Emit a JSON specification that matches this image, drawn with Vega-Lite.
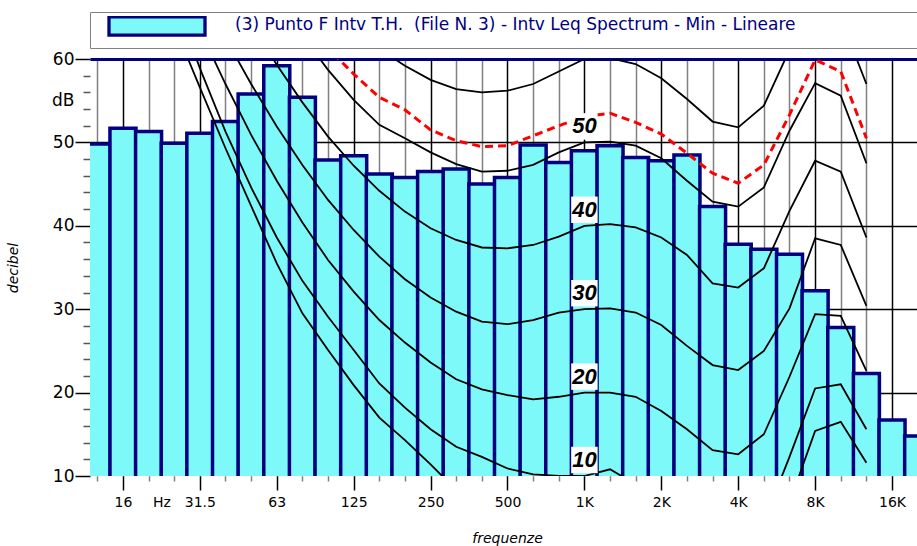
{
"$schema":"https://vega.github.io/schema/vega-lite/v6.json",
"autosize":{"type":"none"},
"width":827,"height":417,
"padding":{"left":90,"top":59,"right":0,"bottom":70},
"background":"white",
"config":{"view":{"stroke":null},"font":"DejaVu Sans"},
"datasets":{
"bars":[
{"f":12.59,"db":49.8},{"f":15.85,"db":51.7},{"f":19.95,"db":51.3},{"f":25.12,"db":49.9},{"f":31.62,"db":51.1},{"f":39.81,"db":52.5},{"f":50.12,"db":55.8},{"f":63.1,"db":59.2},{"f":79.43,"db":55.4},{"f":100,"db":47.9},{"f":125.9,"db":48.4},{"f":158.5,"db":46.2},{"f":199.5,"db":45.8},{"f":251.2,"db":46.5},{"f":316.2,"db":46.8},{"f":398.1,"db":45.0},{"f":501.2,"db":45.8},{"f":631,"db":49.7},{"f":794.3,"db":47.6},{"f":1000,"db":49.0},{"f":1259,"db":49.6},{"f":1585,"db":48.2},{"f":1995,"db":47.8},{"f":2512,"db":48.5},{"f":3162,"db":42.3},{"f":3981,"db":37.8},{"f":5012,"db":37.2},{"f":6310,"db":36.6},{"f":7943,"db":32.2},{"f":10000,"db":27.8},{"f":12590,"db":22.3},{"f":15850,"db":16.7},{"f":19950,"db":14.8}],
"curves":[
{"c":"0","f":19.95,"db":74},{"c":"0","f":25.12,"db":64.0},{"c":"0","f":31.62,"db":56.6},{"c":"0","f":39.81,"db":49.3},{"c":"0","f":50.12,"db":42.4},{"c":"0","f":63.1,"db":35.5},{"c":"0","f":79.43,"db":29.5},{"c":"0","f":100,"db":25.1},{"c":"0","f":125.9,"db":20.9},{"c":"0","f":158.5,"db":17.0},{"c":"0","f":199.5,"db":14.3},{"c":"0","f":251.2,"db":11.4},{"c":"0","f":316.2,"db":8.3},{"c":"0","f":398.1,"db":6},{"c":"0","f":501.2,"db":4.5},{"c":"0","f":631,"db":3},{"c":"0","f":794.3,"db":2},{"c":"0","f":1000,"db":2},{"c":"0","f":1259,"db":3},{"c":"0","f":1585,"db":2},{"c":"0","f":1995,"db":-1},{"c":"0","f":2512,"db":-4},{"c":"0","f":3162,"db":-6},{"c":"0","f":3981,"db":-5},{"c":"0","f":5012,"db":-1},{"c":"0","f":6310,"db":6.8},{"c":"0","f":7943,"db":15.4},{"c":"0","f":10000,"db":16.5},{"c":"0","f":12590,"db":11.6},
{"c":"10","f":19.95,"db":80},{"c":"10","f":25.12,"db":67.3},{"c":"10","f":31.62,"db":58.9},{"c":"10","f":39.81,"db":51.3},{"c":"10","f":50.12,"db":44.6},{"c":"10","f":63.1,"db":38.6},{"c":"10","f":79.43,"db":33.4},{"c":"10","f":100,"db":29.1},{"c":"10","f":125.9,"db":25.1},{"c":"10","f":158.5,"db":21.1},{"c":"10","f":199.5,"db":18.2},{"c":"10","f":251.2,"db":15.6},{"c":"10","f":316.2,"db":13.5},{"c":"10","f":398.1,"db":12.3},{"c":"10","f":501.2,"db":10.9},{"c":"10","f":631,"db":10.2},{"c":"10","f":794.3,"db":10.0},{"c":"10","f":1000,"db":10.0},{"c":"10","f":1259,"db":10.8},{"c":"10","f":1585,"db":9},{"c":"10","f":1995,"db":6},{"c":"10","f":2512,"db":3},{"c":"10","f":3162,"db":1.5},{"c":"10","f":3981,"db":1.5},{"c":"10","f":5012,"db":4.5},{"c":"10","f":6310,"db":12.3},{"c":"10","f":7943,"db":20.5},{"c":"10","f":10000,"db":21.0},{"c":"10","f":12590,"db":15.6},
{"c":"20","f":25.12,"db":70},{"c":"20","f":31.62,"db":63.5},{"c":"20","f":39.81,"db":57.0},{"c":"20","f":50.12,"db":50.9},{"c":"20","f":63.1,"db":45.4},{"c":"20","f":79.43,"db":40.4},{"c":"20","f":100,"db":35.9},{"c":"20","f":125.9,"db":32.1},{"c":"20","f":158.5,"db":28.7},{"c":"20","f":199.5,"db":26.0},{"c":"20","f":251.2,"db":23.6},{"c":"20","f":316.2,"db":21.6},{"c":"20","f":398.1,"db":20.4},{"c":"20","f":501.2,"db":19.7},{"c":"20","f":631,"db":19.2},{"c":"20","f":794.3,"db":19.5},{"c":"20","f":1000,"db":20.0},{"c":"20","f":1259,"db":20.0},{"c":"20","f":1585,"db":19.5},{"c":"20","f":1995,"db":17.8},{"c":"20","f":2512,"db":15.6},{"c":"20","f":3162,"db":13.1},{"c":"20","f":3981,"db":12.6},{"c":"20","f":5012,"db":15.0},{"c":"20","f":6310,"db":21.9},{"c":"20","f":7943,"db":29.4},{"c":"20","f":10000,"db":29.2},{"c":"20","f":12590,"db":22.6},
{"c":"30","f":31.62,"db":68},{"c":"30","f":39.81,"db":62.5},{"c":"30","f":50.12,"db":57.0},{"c":"30","f":63.1,"db":51.9},{"c":"30","f":79.43,"db":47.3},{"c":"30","f":100,"db":43.1},{"c":"30","f":125.9,"db":39.5},{"c":"30","f":158.5,"db":36.3},{"c":"30","f":199.5,"db":33.6},{"c":"30","f":251.2,"db":31.4},{"c":"30","f":316.2,"db":29.7},{"c":"30","f":398.1,"db":28.5},{"c":"30","f":501.2,"db":28.2},{"c":"30","f":631,"db":28.7},{"c":"30","f":794.3,"db":29.6},{"c":"30","f":1000,"db":30.0},{"c":"30","f":1259,"db":30.1},{"c":"30","f":1585,"db":29.6},{"c":"30","f":1995,"db":28.1},{"c":"30","f":2512,"db":25.6},{"c":"30","f":3162,"db":23.3},{"c":"30","f":3981,"db":22.7},{"c":"30","f":5012,"db":25.0},{"c":"30","f":6310,"db":30.1},{"c":"30","f":7943,"db":38.5},{"c":"30","f":10000,"db":37.7},{"c":"30","f":12590,"db":30.4},
{"c":"40","f":39.81,"db":70},{"c":"40","f":50.12,"db":64.3},{"c":"40","f":63.1,"db":59.3},{"c":"40","f":79.43,"db":54.8},{"c":"40","f":100,"db":50.7},{"c":"40","f":125.9,"db":47.2},{"c":"40","f":158.5,"db":44.2},{"c":"40","f":199.5,"db":41.7},{"c":"40","f":251.2,"db":39.7},{"c":"40","f":316.2,"db":38.3},{"c":"40","f":398.1,"db":37.4},{"c":"40","f":501.2,"db":37.3},{"c":"40","f":631,"db":37.7},{"c":"40","f":794.3,"db":38.7},{"c":"40","f":1000,"db":40.0},{"c":"40","f":1259,"db":40.2},{"c":"40","f":1585,"db":39.8},{"c":"40","f":1995,"db":38.6},{"c":"40","f":2512,"db":36.5},{"c":"40","f":3162,"db":33.1},{"c":"40","f":3981,"db":32.6},{"c":"40","f":5012,"db":34.9},{"c":"40","f":6310,"db":41.8},{"c":"40","f":7943,"db":47.8},{"c":"40","f":10000,"db":46.5},{"c":"40","f":12590,"db":38.6},
{"c":"50","f":63.1,"db":67},{"c":"50","f":79.43,"db":62.8},{"c":"50","f":100,"db":58.7},{"c":"50","f":125.9,"db":55.1},{"c":"50","f":158.5,"db":52.1},{"c":"50","f":199.5,"db":50.5},{"c":"50","f":251.2,"db":48.8},{"c":"50","f":316.2,"db":47.4},{"c":"50","f":398.1,"db":46.5},{"c":"50","f":501.2,"db":46.6},{"c":"50","f":631,"db":47.3},{"c":"50","f":794.3,"db":48.8},{"c":"50","f":1000,"db":50.0},{"c":"50","f":1259,"db":50.1},{"c":"50","f":1585,"db":49.6},{"c":"50","f":1995,"db":48.1},{"c":"50","f":2512,"db":45.4},{"c":"50","f":3162,"db":42.9},{"c":"50","f":3981,"db":42.3},{"c":"50","f":5012,"db":44.6},{"c":"50","f":6310,"db":51.4},{"c":"50","f":7943,"db":57.1},{"c":"50","f":10000,"db":55.6},{"c":"50","f":12590,"db":47.5},
{"c":"60","f":100,"db":66},{"c":"60","f":125.9,"db":63.5},{"c":"60","f":158.5,"db":61.2},{"c":"60","f":199.5,"db":59.2},{"c":"60","f":251.2,"db":57.5},{"c":"60","f":316.2,"db":56.4},{"c":"60","f":398.1,"db":56.0},{"c":"60","f":501.2,"db":56.2},{"c":"60","f":631,"db":57.0},{"c":"60","f":794.3,"db":58.5},{"c":"60","f":1000,"db":60.0},{"c":"60","f":1259,"db":60.1},{"c":"60","f":1585,"db":59.4},{"c":"60","f":1995,"db":57.7},{"c":"60","f":2512,"db":55.2},{"c":"60","f":3162,"db":52.5},{"c":"60","f":3981,"db":51.8},{"c":"60","f":5012,"db":54.4},{"c":"60","f":6310,"db":61.1},{"c":"60","f":7943,"db":67},{"c":"60","f":10000,"db":64.9},{"c":"60","f":12590,"db":57.0}],
"red":[
{"f":79.43,"db":63.5},{"f":100,"db":61.3},{"f":125.9,"db":58.2},{"f":158.5,"db":55.4},{"f":199.5,"db":53.9},{"f":251.2,"db":51.5},{"f":316.2,"db":50.2},{"f":398.1,"db":49.5},{"f":501.2,"db":49.6},{"f":631,"db":50.8},{"f":794.3,"db":52.0},{"f":1000,"db":53.1},{"f":1259,"db":53.5},{"f":1585,"db":52.4},{"f":1995,"db":51.0},{"f":2512,"db":48.7},{"f":3162,"db":46.3},{"f":3981,"db":45.1},{"f":5012,"db":47.3},{"f":6310,"db":53.3},{"f":7943,"db":59.9},{"f":10000,"db":58.5},{"f":12590,"db":50.5}],
"labels":[{"phon":10,"f":1000},{"phon":20,"f":1000},{"phon":30,"f":1000},{"phon":40,"f":1000},{"phon":50,"f":1000}]
},
"layer":[
{"data":{"name":"bars"},
 "mark":{"type":"bar","width":26,"stroke":"#000080","strokeWidth":3.5,"clip":true},
 "encoding":{
  "x":{"field":"f","type":"quantitative",
   "scale":{"type":"log","domain":[12.33,18962],"nice":false},
   "axis":{
    "values":[12.59,15.85,19.95,22.39,25.12,31.62,39.81,50.12,63.1,79.43,100,125.9,158.5,199.5,251.2,316.2,398.1,501.2,631,794.3,1000,1259,1585,1995,2512,3162,3981,5012,6310,7943,10000,12590,15850],
    "tickCount":200,
    "labelExpr":"datum.value == 15.85 ? '16' : datum.value == 22.39 ? 'Hz' : datum.value == 31.62 ? '31.5' : datum.value == 63.1 ? '63' : datum.value == 125.9 ? '125' : datum.value == 251.2 ? '250' : datum.value == 501.2 ? '500' : datum.value == 1000 ? '1K' : datum.value == 1995 ? '2K' : datum.value == 3981 ? '4K' : datum.value == 7943 ? '8K' : datum.value == 15850 ? '16K' : ''",
    "labelFontSize":14,"labelColor":"black","labelPadding":5,"labelFlush":false,"labelOverlap":false,"labelBound":false,
    "tickSize":{"condition":{"test":"indexof([15.85,22.39,31.62,63.1,125.9,251.2,501.2,1000,1995,3981,7943,15850], datum.value) >= 0","value":14},"value":5},
    "tickColor":{"condition":{"test":"indexof([15.85,31.62,63.1,125.9,251.2,501.2,1000,1995,3981,7943,15850], datum.value) >= 0","value":"black"},"value":"#808080"},
    "tickOpacity":{"condition":{"test":"datum.value == 22.39","value":0},"value":1},
    "tickWidth":1.5,
    "grid":true,
    "gridColor":{"condition":{"test":"indexof([15.85,31.62,63.1,125.9,251.2,501.2,1000,1995,3981,7943,15850], datum.value) >= 0","value":"black"},"value":"#808080"},
    "gridOpacity":{"condition":{"test":"datum.value == 22.39","value":0},"value":1},
    "gridWidth":1.5,
    "domain":false,
    "title":"frequenze","titleFontSize":14,"titleFontStyle":"italic","titleFontWeight":"normal","titleColor":"black",
    "titleX":417,"titleY":66,"titleBaseline":"alphabetic","titleAlign":"center"}},
  "y":{"field":"db","type":"quantitative",
   "scale":{"domain":[10,60],"nice":false,"zero":false},
   "axis":{
    "values":[10,12,14,16,18,20,22,24,26,28,30,32,34,36,38,40,42,44,46,48,50,52,54,55,56,58,60],
    "tickCount":200,"format":"d",
    "labelExpr":"datum.value == 55 ? 'dB' : (datum.value % 10 == 0 ? datum.label : '')",
    "labelFontSize":17,"labelColor":"black","labelPadding":1,"labelOverlap":false,"labelBound":false,"labelFlush":false,
    "tickSize":{"condition":{"test":"datum.value % 5 == 0","value":15},"value":7},
    "tickColor":{"condition":{"test":"datum.value % 10 == 0","value":"black"},"value":"#555555"},
    "tickOpacity":{"condition":{"test":"datum.value == 55","value":0},"value":1},
    "tickWidth":1.5,
    "grid":true,
    "gridColor":{"condition":{"test":"datum.value == 60","value":"#000080"},"value":"black"},
    "gridWidth":{"condition":{"test":"datum.value == 60","value":3},"value":1.6},
    "gridOpacity":{"condition":{"test":"datum.value % 10 == 0 && datum.value > 10","value":1},"value":0},
    "domain":false,
    "title":"decibel","titleFontSize":14,"titleFontStyle":"italic","titleFontWeight":"normal","titleColor":"black",
    "titleX":-77,"titleY":208.5,"titleAngle":-90,"titleBaseline":"middle","titleAlign":"center"}},
  "y2":{"datum":0},
  "fill":{"datum":"(3) Punto F Intv T.H.  (File N. 3) - Intv Leq Spectrum - Min - Lineare",
   "scale":{"range":["#7DF9F9"]},
   "legend":{"orient":"none","legendX":0,"legendY":-47,"title":null,
    "symbolType":"M-1,-0.275H1V0.105H-1Z","symbolSize":9216,"symbolStrokeColor":"#000080","symbolStrokeWidth":3.3,"symbolOpacity":1,"symbolOffset":13,
    "clipHeight":28,"padding":4,"strokeColor":"#808080","fillColor":"white",
    "labelFont":"DejaVu Sans","labelFontSize":17,"labelColor":"#000080","labelLimit":0,"labelOffset":28,"labelBaseline":"alphabetic",
    "labelExpr":"pad(replace(datum.label, 'T.H.  ', 'T.H.\u00a0 '), 91, '\u00a0') + '\u2009\u200b'"}}
 }},
{"data":{"name":"curves"},
 "mark":{"type":"line","color":"black","strokeWidth":1.8,"clip":true},
 "encoding":{"x":{"field":"f","type":"quantitative"},"y":{"field":"db","type":"quantitative"},"detail":{"field":"c","type":"nominal"}}},
{"data":{"name":"red"},
 "mark":{"type":"line","color":"#FF0000","strokeWidth":3,"strokeDash":[8,5],"clip":true},
 "encoding":{"x":{"field":"f","type":"quantitative"},"y":{"field":"db","type":"quantitative"}}},
{"data":{"name":"labels"},
 "mark":{"type":"point","shape":"square","size":700,"filled":true,"fill":"white","opacity":1,"strokeWidth":0,"yOffset":-16},
 "encoding":{"x":{"field":"f","type":"quantitative"},"y":{"field":"phon","type":"quantitative"}}},
{"data":{"name":"labels"},
 "mark":{"type":"text","font":"Liberation Sans","fontSize":22,"fontWeight":"bold","fontStyle":"italic","color":"black","baseline":"middle","align":"center","yOffset":-16},
 "encoding":{"x":{"field":"f","type":"quantitative"},"y":{"field":"phon","type":"quantitative"},"text":{"field":"phon","type":"quantitative"}}},
{"mark":{"type":"rule","color":"black","strokeWidth":2},"encoding":{"y":{"datum":10}}},
{"mark":{"type":"rule","color":"#000080","strokeWidth":2},"encoding":{"x":{"datum":12.33}}}
]
}
